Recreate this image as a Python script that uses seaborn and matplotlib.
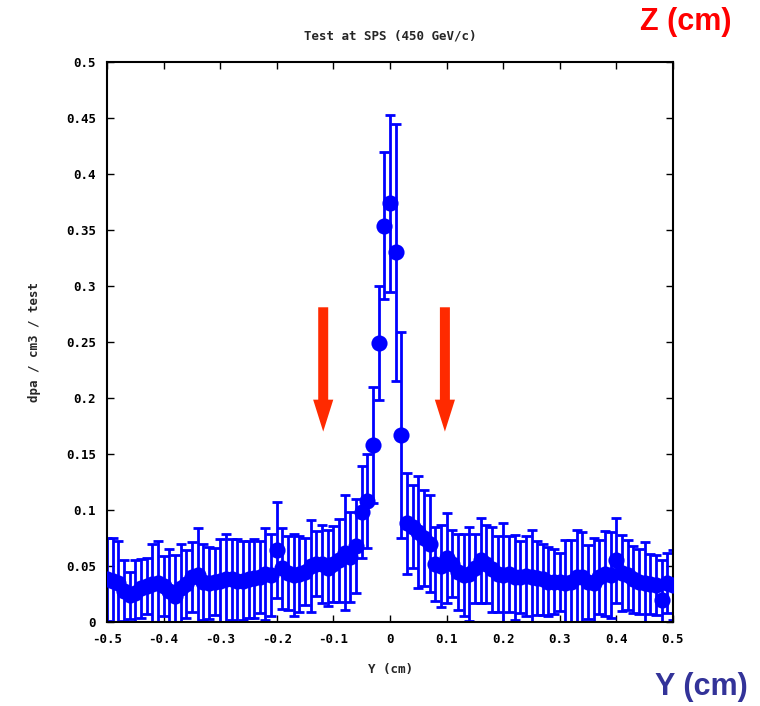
import numpy as np
import pandas as pd
import matplotlib
matplotlib.use("Agg")
import matplotlib.pyplot as plt
import seaborn as sns

# ---- data -------------------------------------------------------------
y_pos = [round(-0.5 + 0.01 * i, 2) for i in range(101)]

dpa = [
    0.038, 0.037, 0.035, 0.028, 0.024, 0.026, 0.030, 0.032, 0.034, 0.035,
    0.032, 0.028, 0.023, 0.030, 0.034, 0.040, 0.042, 0.036, 0.035, 0.036,
    0.037, 0.038, 0.038, 0.037, 0.037, 0.038, 0.039, 0.040, 0.043, 0.042,
    0.064, 0.048, 0.044, 0.042, 0.043, 0.045, 0.050, 0.052, 0.052, 0.048,
    0.052, 0.055, 0.062, 0.058, 0.068, 0.098, 0.108, 0.158, 0.249, 0.354,
    0.374, 0.330, 0.167, 0.088, 0.085, 0.080, 0.075, 0.070, 0.052, 0.050,
    0.057, 0.052, 0.045, 0.042, 0.043, 0.048, 0.055, 0.052, 0.047, 0.043,
    0.042, 0.043, 0.040, 0.040, 0.041, 0.040, 0.039, 0.038, 0.036, 0.036,
    0.036, 0.035, 0.036, 0.040, 0.040, 0.036, 0.035, 0.040, 0.043, 0.042,
    0.055, 0.044, 0.042, 0.038, 0.036, 0.035, 0.034, 0.033, 0.020, 0.035,
    0.033,
]

dpa_upper = [
    0.075, 0.075, 0.072, 0.055, 0.045, 0.055, 0.056, 0.057, 0.070, 0.072,
    0.059, 0.065, 0.060, 0.070, 0.064, 0.071, 0.084, 0.070, 0.067, 0.066,
    0.074, 0.079, 0.074, 0.074, 0.072, 0.072, 0.074, 0.072, 0.084, 0.079,
    0.107, 0.084, 0.077, 0.079, 0.077, 0.075, 0.091, 0.081, 0.087, 0.082,
    0.086, 0.092, 0.113, 0.098, 0.110, 0.139, 0.150, 0.210, 0.300, 0.420,
    0.453, 0.445, 0.259, 0.133, 0.122, 0.130, 0.118, 0.113, 0.085, 0.087,
    0.097, 0.082, 0.079, 0.079, 0.085, 0.079, 0.093, 0.087, 0.085, 0.077,
    0.088, 0.077, 0.078, 0.072, 0.077, 0.082, 0.072, 0.070, 0.067, 0.065,
    0.062, 0.073, 0.073, 0.082, 0.080, 0.069, 0.075, 0.073, 0.081, 0.080,
    0.093, 0.078, 0.073, 0.068, 0.065, 0.071, 0.061, 0.060, 0.055, 0.062,
    0.064,
]

x_ticks = [-0.5, -0.4, -0.3, -0.2, -0.1, 0.0, 0.1, 0.2, 0.3, 0.4, 0.5]
x_tick_labels = ["-0.5", "-0.4", "-0.3", "-0.2", "-0.1", "0",
                 "0.1", "0.2", "0.3", "0.4", "0.5"]
y_ticks = [0.0, 0.05, 0.1, 0.15, 0.2, 0.25, 0.3, 0.35, 0.4, 0.45, 0.5]
y_tick_labels = ["0", "0.05", "0.1", "0.15", "0.2", "0.25", "0.3",
                 "0.35", "0.4", "0.45", "0.5"]
arrow_x = [-0.118, 0.097]

df = pd.DataFrame({"Y": y_pos, "dpa": dpa, "upper": dpa_upper})
df["err"] = df["upper"] - df["dpa"]

# ---- figure -----------------------------------------------------------
sns.set_theme(style="ticks")
plt.rcParams["font.family"] = ["DejaVu Sans Mono", "DejaVu Sans"]

fig = plt.figure(figsize=(7.6, 7.06), dpi=100)
ax = fig.add_axes([107 / 760, 1 - 622 / 706, (673 - 107) / 760, (622 - 62) / 706])

blue = "#0000ff"
ax.errorbar(df["Y"], df["dpa"], yerr=df["err"], fmt="none", ecolor=blue,
            elinewidth=2.0, capsize=3.5, capthick=2.0, zorder=2, clip_on=True)
sns.scatterplot(data=df, x="Y", y="dpa", ax=ax, color=blue, s=135,
                marker="o", edgecolor=blue, linewidth=0, zorder=3, legend=False)

ax.set_xlim(-0.5, 0.5)
ax.set_ylim(0, 0.5)
ax.set_xticks(x_ticks)
ax.set_xticklabels(x_tick_labels)
ax.set_yticks(y_ticks)
ax.set_yticklabels(y_tick_labels)
ax.tick_params(direction="in", length=5, width=1, top=True, right=True,
               labelsize=9, colors="black", pad=8)
for lab in ax.get_xticklabels() + ax.get_yticklabels():
    lab.set_fontweight("bold")
for sp in ax.spines.values():
    sp.set_visible(True)
    sp.set_linewidth(1.5)
    sp.set_color("black")

ax.set_xlabel("Y (cm)", fontsize=9, fontweight="bold", labelpad=12)
ax.set_ylabel("dpa / cm3 / test", fontsize=9, fontweight="bold", labelpad=18)
ax.set_title("Test at SPS (450 GeV/c)", fontsize=9, fontweight="bold", pad=16)

# red arrows
red = "#ff2a00"
for xa in arrow_x:
    ax.annotate("", xy=(xa, 0.170), xytext=(xa, 0.281),
                arrowprops=dict(arrowstyle="simple,head_width=1.45,head_length=2.3,tail_width=0.72",
                                mutation_scale=10, color=red, shrinkA=0, shrinkB=0,
                                linewidth=0))

# corner annotations
fig.text(686 / 760, 1 - 22 / 706, "Z (cm)", color="#ff0000", fontsize=22,
         fontweight="bold", family=["Liberation Sans", "DejaVu Sans"],
         ha="center", va="center")
fig.text(701 / 760, 1 - 687 / 706, "Y (cm)", color="#333399", fontsize=22,
         fontweight="bold", family=["Liberation Sans", "DejaVu Sans"],
         ha="center", va="center")

fig.savefig("out.png", dpi=100, facecolor="white")
